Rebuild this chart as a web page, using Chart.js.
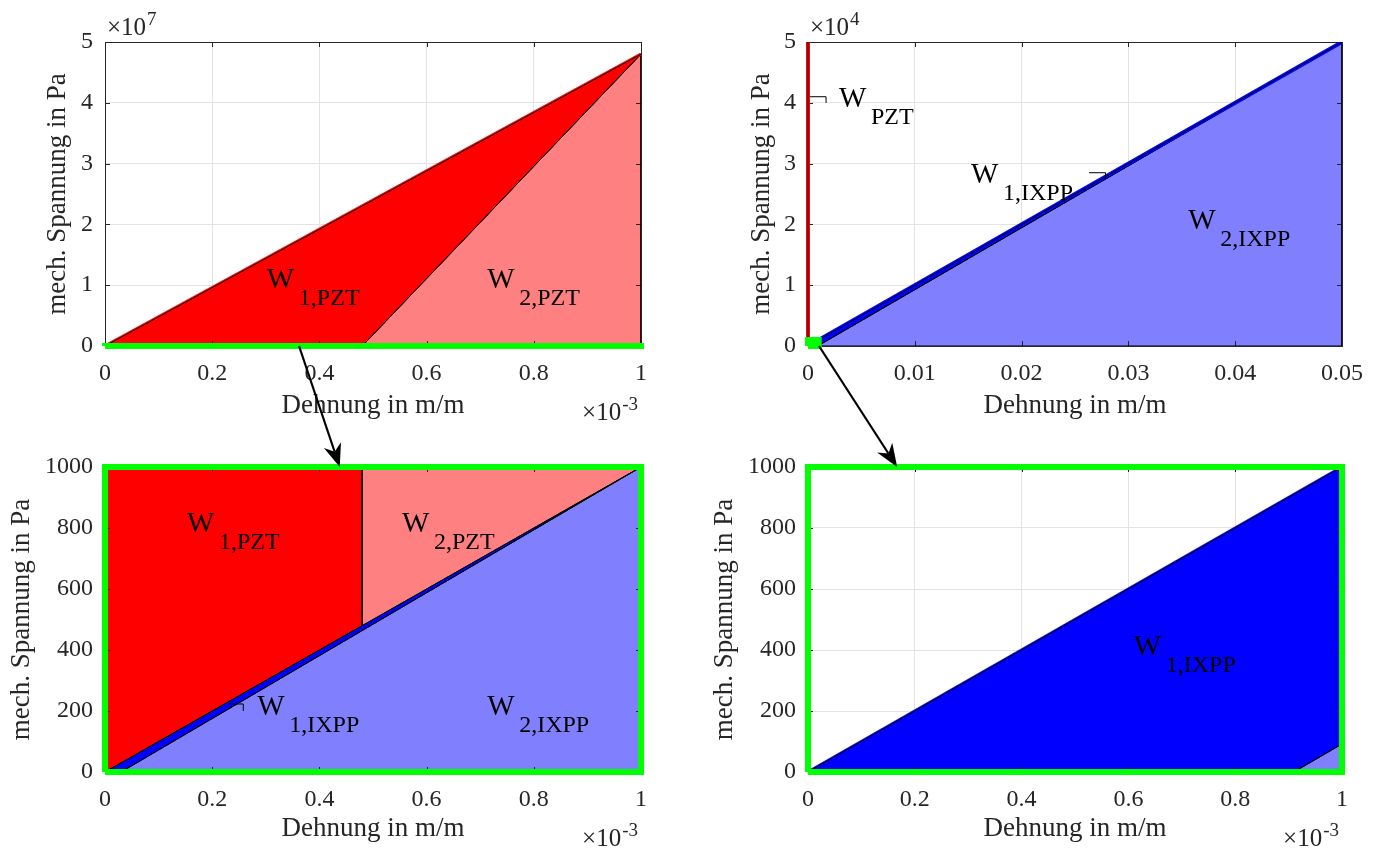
<!DOCTYPE html>
<html>
<head>
<meta charset="utf-8">
<script src="https://cdn.jsdelivr.net/npm/chart.js@4"></script>
<style>
  body { margin: 0; background: #fff; }
  #wrap { position: relative; width: 1381px; height: 850px; overflow: hidden; }
  canvas { position: absolute; }
  #arrows { position: absolute; left: 0; top: 0; pointer-events: none; }
</style>
</head>
<body>
<div id="wrap">
  <canvas id="tl" width="690" height="425" style="left:0px;top:0px"></canvas>
  <canvas id="tr" width="691" height="425" style="left:690px;top:0px"></canvas>
  <canvas id="bl" width="690" height="425" style="left:0px;top:425px"></canvas>
  <canvas id="br" width="691" height="425" style="left:690px;top:425px"></canvas>
  <svg id="arrows" width="1381" height="850"></svg>
</div>
<script>
// ---- data ----
// tick positions and labels
const mXTicks = [0, 0.0002, 0.0004, 0.0006, 0.0008, 0.001];
const mXLabels = ['0', '0.2', '0.4', '0.6', '0.8', '1'];
const pztYTicks = [0, 1e7, 2e7, 3e7, 4e7, 5e7];
const pztYLabels = ['0', '1', '2', '3', '4', '5'];
const ixppXTicks = [0, 0.01, 0.02, 0.03, 0.04, 0.05];
const ixppXLabels = ['0', '0.01', '0.02', '0.03', '0.04', '0.05'];
const ixppYTicks = [0, 1e4, 2e4, 3e4, 4e4, 5e4];
const ixppYLabels = ['0', '1', '2', '3', '4', '5'];
const zoomYTicks = [0, 200, 400, 600, 800, 1000];
const zoomYLabels = ['0', '200', '400', '600', '800', '1000'];

// top left: PZT energies
const pztLine = [[0, 0], [0.001, 4.8e7]];
const pztW1 = [[0, 0], [0.001, 4.8e7], [0.00048, 0], [0, 0]];
const pztW2 = [[0.00048, 0], [0.001, 4.8e7], [0.001, 0], [0.00048, 0]];
// zoom window 0..1e-3 m/m, 0..1000 Pa
const zoomBox = [[0, 0], [0.001, 0], [0.001, 1000], [0, 1000], [0, 0]];

// top right: IXPP energies
const pztLineSteep = [[0, 0], [1.04e-6, 5e4]];
const ixppLine = [[0, 0], [0.05, 5e4]];
const ixppW1 = [[0, 0], [0.05, 5e4], [0.00091, 0], [0, 0]];
const ixppW2 = [[0.00091, 0], [0.05, 5e4], [0.05, 0], [0.00091, 0]];

// bottom left: zoom, PZT vs IXPP
const blPztW1 = [[0, 0], [0, 1000], [0.00048, 1000], [0.00048, 480], [0, 0]];
const blPztW2 = [[0.00048, 480], [0.00048, 1000], [0.001, 1000], [0.00048, 480]];
const blIxppW1 = [[0, 0], [0.001, 1000], [0.00003, 0], [0, 0]];
const blIxppW2 = [[0.00003, 0], [0.001, 1000], [0.001, 0], [0.00003, 0]];

// bottom right: zoom, IXPP
const brLine = [[0, 0], [0.001, 1000]];
const brIxppW1 = [[0, 0], [0.001, 1000], [0.001, 92], [0.00091, 0], [0, 0]];
const brIxppW2 = [[0.00091, 0], [0.001, 92], [0.001, 0], [0.00091, 0]];

// area labels: [subscript, x, y]
const tlLabels = [['1,PZT', 0.000302, 0.95e7], ['2,PZT', 0.000713, 0.95e7]];
const trLabels = [['PZT', 0.0029, 3.93e4], ['1,IXPP', 0.01526, 2.68e4], ['2,IXPP', 0.0356, 1.92e4]];
const blLabels = [['1,PZT', 0.000153, 787], ['2,PZT', 0.000554, 787], ['1,IXPP', 0.000284, 187], ['2,IXPP', 0.000713, 187]];
const brLabels = [['1,IXPP', 0.00061, 384]];
// label pointers: [x1, y1, x2, y2]
const trBrackets = [[0.00019, 4.1e4, 0.00169, 4.0e4], [0.02631, 2.85e4, 0.02786, 2.763e4]];
const blBrackets = [[0.000231, 223, 0.000258, 200]];

// ---- style ----
const SERIF = '"Liberation Serif", "Times New Roman", serif';
const INK = '#262626';
const RED = '#ff0000', PINK = '#ff8080', BLUE = '#0000ff', LBLUE = '#8080ff', GREEN = '#00ff00';

function pts(a) { return a.map(p => ({ x: p[0], y: p[1] })); }
function area(points, color) {
  return { data: pts(points), fill: 'shape', backgroundColor: color, borderColor: '#000', borderWidth: 1 };
}
function stroke(points, color, width, noClip) {
  const ds = { data: pts(points), fill: false, borderColor: color, borderWidth: width };
  if (noClip) ds.clip = false;
  return ds;
}

function drawExp(ctx, x, y, exp, alignRight) {
  ctx.font = '25px ' + SERIF;
  const w1 = ctx.measureText('\u00d710').width;
  ctx.font = '19px ' + SERIF;
  const w2 = ctx.measureText(exp).width;
  const x0 = alignRight ? x - w1 - w2 - 1 : x;
  ctx.font = '25px ' + SERIF;
  ctx.fillText('\u00d710', x0, y);
  ctx.font = '19px ' + SERIF;
  ctx.fillText(exp, x0 + w1 + 1, y - 10);
}

function deco(o) {
  return {
    id: 'deco',
    beforeDatasetsDraw(chart) {
      const { ctx, chartArea: a, scales: { x, y } } = chart;
      ctx.save();
      ctx.strokeStyle = INK;
      ctx.lineWidth = 1;
      ctx.beginPath();
      o.xTicks.forEach(v => {
        const px = Math.round(x.getPixelForValue(v)) + 0.5;
        ctx.moveTo(px, a.bottom); ctx.lineTo(px, a.bottom - 5);
        ctx.moveTo(px, a.top); ctx.lineTo(px, a.top + 5);
      });
      o.yTicks.forEach(v => {
        const py = Math.round(y.getPixelForValue(v)) + 0.5;
        ctx.moveTo(a.left, py); ctx.lineTo(a.left + 5, py);
        ctx.moveTo(a.right, py); ctx.lineTo(a.right - 5, py);
      });
      ctx.stroke();
      ctx.strokeRect(Math.round(a.left) + 0.5, Math.round(a.top) + 0.5, Math.round(a.right - a.left), Math.round(a.bottom - a.top));
      ctx.restore();
    },
    afterDatasetsDraw(chart) {
      const { ctx, chartArea: a, scales: { x, y } } = chart;
      ctx.save();
      ctx.fillStyle = '#000';
      ctx.textBaseline = 'alphabetic';
      ctx.textAlign = 'left';
      o.labels.forEach(l => {
        const px = x.getPixelForValue(l[1]), py = y.getPixelForValue(l[2]);
        ctx.font = '29px ' + SERIF;
        ctx.fillText('W', px, py);
        ctx.font = '24px ' + SERIF;
        ctx.fillText(l[0], px + 32, py + 17);
      });
      ctx.strokeStyle = '#000';
      ctx.lineWidth = 1;
      (o.brackets || []).forEach(b => {
        const x1 = x.getPixelForValue(b[0]), y1 = y.getPixelForValue(b[1]);
        const x2 = x.getPixelForValue(b[2]), y2 = y.getPixelForValue(b[3]);
        ctx.beginPath();
        ctx.moveTo(x1, y1); ctx.lineTo(x2, y1); ctx.lineTo(x2, y2);
        ctx.stroke();
      });
      ctx.fillStyle = INK;
      if (o.expTop) drawExp(ctx, a.left + 2, a.top - 7, o.expTop, false);
      if (o.expBottom) drawExp(ctx, a.right - 3, a.bottom + 74, o.expBottom, true);
      ctx.restore();
    }
  };
}

function makeChart(id, o) {
  const cv = document.getElementById(id);
  const W = cv.width, H = cv.height;
  const tickFont = { family: SERIF, size: 24, lineHeight: 1.2 };
  const titleFont = { family: SERIF, size: 27, lineHeight: 1 };
  return new Chart(cv.getContext('2d'), {
    type: 'line',
    data: { datasets: o.datasets },
    options: {
      responsive: false,
      animation: false,
      events: [],
      layout: { autoPadding: false, padding: { left: 0, top: o.area.t, right: W - o.area.r, bottom: 0 } },
      elements: { point: { radius: 0 }, line: { tension: 0, borderJoinStyle: 'miter' } },
      plugins: { legend: { display: false }, tooltip: { enabled: false }, filler: { drawTime: 'beforeDatasetsDraw' } },
      scales: {
        x: {
          type: 'linear', min: o.xTicks[0], max: o.xTicks[o.xTicks.length - 1],
          afterBuildTicks: s => { s.ticks = o.xTicks.map(v => ({ value: v })); },
          afterFit: s => { s.height = H - o.area.b; },
          grid: { color: '#e3e3e3', drawTicks: false },
          border: { display: false },
          ticks: { autoSkip: false, maxRotation: 0, padding: 13, color: INK, font: tickFont,
                   callback: (v, i) => o.xLabels[i] },
          title: { display: true, text: 'Dehnung in m/m', color: INK, font: titleFont,
                   padding: { top: 0, bottom: o.xTitlePad } }
        },
        y: {
          type: 'linear', min: o.yTicks[0], max: o.yTicks[o.yTicks.length - 1],
          afterBuildTicks: s => { s.ticks = o.yTicks.map(v => ({ value: v })); },
          afterFit: s => { s.width = o.area.l; },
          grid: { color: '#e3e3e3', drawTicks: false },
          border: { display: false },
          ticks: { autoSkip: false, padding: 12, color: INK, font: tickFont,
                   callback: (v, i) => o.yLabels[i] },
          title: { display: true, text: 'mech. Spannung in Pa', color: INK, font: titleFont,
                   padding: { top: o.yTitlePad, bottom: 0 } }
        }
      }
    },
    plugins: [deco(o)]
  });
}

const tl = makeChart('tl', {
  area: { l: 105, r: 641, t: 42, b: 346 }, yTitlePad: 44.5, xTitlePad: 5.5,
  xTicks: mXTicks, xLabels: mXLabels, yTicks: pztYTicks, yLabels: pztYLabels,
  expTop: '7', expBottom: '-3', labels: tlLabels,
  datasets: [
    stroke(zoomBox, GREEN, 6, true),
    stroke(pztLine, '#000', 1),
    stroke(pztLine, RED, 3),
    area(pztW1, RED),
    area(pztW2, PINK)
  ]
});

const tr = makeChart('tr', {
  area: { l: 118, r: 652, t: 42, b: 346 }, yTitlePad: 58, xTitlePad: 5.5,
  xTicks: ixppXTicks, xLabels: ixppXLabels, yTicks: ixppYTicks, yLabels: ixppYLabels,
  expTop: '4', expBottom: null, labels: trLabels, brackets: trBrackets,
  datasets: [
    stroke(zoomBox, GREEN, 6, true),
    stroke(pztLineSteep, '#000', 1, true),
    stroke(pztLineSteep, RED, 4, true),
    stroke(ixppLine, '#000', 1),
    stroke(ixppLine, BLUE, 4),
    area(ixppW1, BLUE),
    area(ixppW2, LBLUE)
  ]
});

const bl = makeChart('bl', {
  area: { l: 105, r: 641, t: 42, b: 347 }, yTitlePad: 8.5, xTitlePad: 7.5,
  xTicks: mXTicks, xLabels: mXLabels, yTicks: zoomYTicks, yLabels: zoomYLabels,
  expTop: null, expBottom: '-3', labels: blLabels, brackets: blBrackets,
  datasets: [
    stroke(zoomBox, GREEN, 6, true),
    area(blPztW1, RED),
    area(blPztW2, PINK),
    area(blIxppW1, BLUE),
    area(blIxppW2, LBLUE)
  ]
});

const br = makeChart('br', {
  area: { l: 118, r: 652, t: 42, b: 347 }, yTitlePad: 21, xTitlePad: 7.5,
  xTicks: mXTicks, xLabels: mXLabels, yTicks: zoomYTicks, yLabels: zoomYLabels,
  expTop: null, expBottom: '-3', labels: brLabels,
  datasets: [
    stroke(zoomBox, GREEN, 6, true),
    stroke(brLine, '#000', 1),
    stroke(brLine, BLUE, 3),
    area(brIxppW1, BLUE),
    area(brIxppW2, LBLUE)
  ]
});

// ---- zoom arrows between the panels ----
function pagePt(chart, x, y) {
  const c = chart.canvas;
  return [c.offsetLeft + chart.scales.x.getPixelForValue(x), c.offsetTop + chart.scales.y.getPixelForValue(y)];
}
function arrow(svg, p0, p1) {
  const dx = p1[0] - p0[0], dy = p1[1] - p0[1];
  const len = Math.hypot(dx, dy), ux = dx / len, uy = dy / len, nx = -uy, ny = ux;
  const L = 23, Wd = 9;
  const bx = p1[0] - ux * L, by = p1[1] - uy * L;
  const mx = p1[0] - ux * L * 0.7, my = p1[1] - uy * L * 0.7;
  const ns = 'http://www.w3.org/2000/svg';
  const ln = document.createElementNS(ns, 'line');
  ln.setAttribute('x1', p0[0]); ln.setAttribute('y1', p0[1]);
  ln.setAttribute('x2', mx); ln.setAttribute('y2', my);
  ln.setAttribute('stroke', '#000'); ln.setAttribute('stroke-width', 2.2);
  svg.appendChild(ln);
  const head = document.createElementNS(ns, 'polygon');
  head.setAttribute('points', [p1, [bx + nx * Wd, by + ny * Wd], [mx, my], [bx - nx * Wd, by - ny * Wd]].map(p => p.join(',')).join(' '));
  head.setAttribute('fill', '#000');
  svg.appendChild(head);
}
const svg = document.getElementById('arrows');
arrow(svg, pagePt(tl, 0.000362, 0), pagePt(bl, 0.000438, 1000));
arrow(svg, pagePt(tr, 0.00103, 0), pagePt(br, 0.000167, 1000));
</script>
</body>
</html>
